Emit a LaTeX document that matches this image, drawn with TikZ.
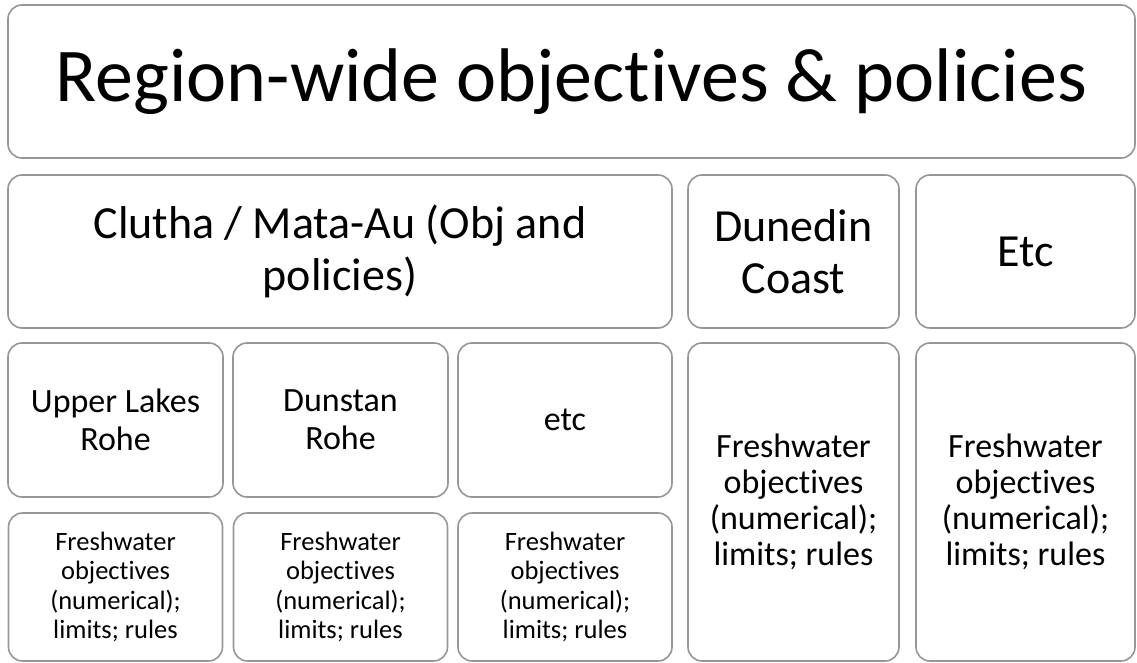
\documentclass[tikz,border=0pt]{standalone}
\usepackage{fontspec}
\setmainfont{Carlito}[UprightFont={* Regular},Ligatures=NoCommon]
\usepackage{tikz}
\usetikzlibrary{positioning}

\definecolor{boxgray}{RGB}{150,150,150}

\begin{document}
\begin{tikzpicture}[x=1pt,y=-1pt,
  every node/.style={rectangle,draw=boxgray,line width=1.6pt,rounded corners=14pt,
    align=center,inner sep=0pt},
  titlefont/.style={font=\fontsize{76}{90}\selectfont},
  headfont/.style={font=\fontsize{46}{52}\selectfont},
  rohefont/.style={font=\fontsize{34}{38}\selectfont},
  notefont/.style={font=\fontsize{34}{36}\selectfont},
  tinyfont/.style={font=\fontsize{26.5}{29.5}\selectfont}]
  \useasboundingbox (0,0) rectangle (1137,663);

  \node[titlefont,minimum width=1127pt,minimum height=153pt] (region) at (571.5,81.5)
    {Region-wide objectives \& policies};

  \node[headfont,minimum width=664pt,minimum height=153pt] (clutha) at (340,251.5)
    {Clutha / Mata-Au (Obj and\\policies)};
  \node[headfont,minimum width=211pt,minimum height=153pt] (dunedin) at (793.5,251.5)
    {Dunedin\\Coast};
  \node[headfont,minimum width=219pt,minimum height=153pt] (etc) at (1025.5,251.5)
    {Etc};

  \node[rohefont,minimum width=215pt,minimum height=154pt] (upper) at (115.5,420)
    {Upper Lakes\\Rohe};
  \node[rohefont,minimum width=215pt,minimum height=154pt] (dunstan) at (340.5,420)
    {Dunstan\\Rohe};
  \node[rohefont,minimum width=214pt,minimum height=154pt] (etcrohe) at (565,420)
    {etc};

  % limits under each rohe
  \foreach \n/\x in {fwupper/115.5,fwdunstan/340.5,fwetc/565} {
    \node[tinyfont,minimum width=214pt,minimum height=148pt] (\n) at (\x,587)
      {Freshwater\\objectives\\(numerical);\\limits; rules};
  }

  \node[notefont,minimum width=211pt,minimum height=318pt] (fwdunedin) at (793.5,502)
    {Freshwater\\objectives\\(numerical);\\limits; rules};
  \node[notefont,minimum width=219pt,minimum height=318pt] (fwother) at (1025.5,502)
    {Freshwater\\objectives\\(numerical);\\limits; rules};
\end{tikzpicture}
\end{document}
